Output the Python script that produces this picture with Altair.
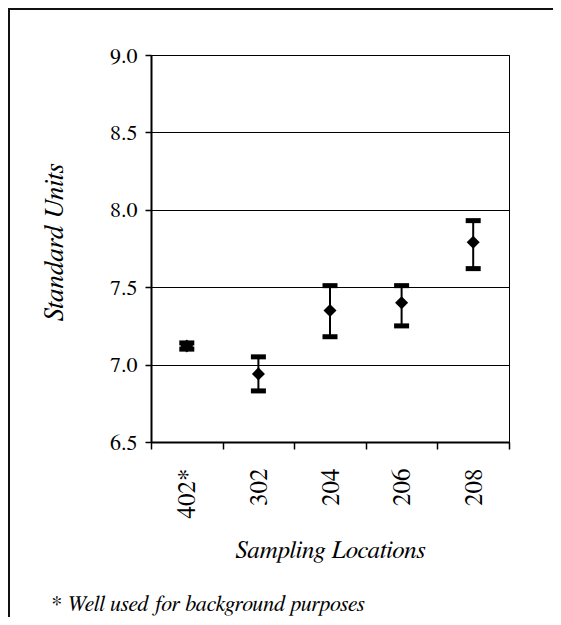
import altair as alt
import pandas as pd

# ---- data ----
locations = ["402*", "302", "204", "206", "208"]
means = [7.12, 6.94, 7.35, 7.40, 7.79]
lows = [7.10, 6.83, 7.18, 7.25, 7.62]
highs = [7.14, 7.05, 7.51, 7.51, 7.93]
y_ticks = [6.5, 7.0, 7.5, 8.0, 8.5, 9.0]
footnote = ["* Well used for background purposes"]

df = pd.DataFrame({"loc": locations, "mean": means, "low": lows, "high": highs})

FONT = "FreeSerif"

x_axis = alt.Axis(
    title="Sampling Locations", labelAngle=270, labelFontSize=25, labelFont=FONT,
    labelColor="black", labelPadding=19, labelAlign="right", labelBaseline="middle",
    tickBand="extent", tickSize=7, tickWidth=1.5, tickColor="black",
    domainColor="black", domainWidth=2, grid=False,
    titleFont=FONT, titleFontSize=25, titleFontStyle="italic", titleFontWeight="normal",
    titleBaseline="alphabetic", titleY=115, titleColor="black",
)
y_axis = alt.Axis(
    title="Standard Units", values=y_ticks, format=".1f",
    labelFont=FONT, labelFontSize=22, labelColor="black", labelPadding=8,
    tickSize=6, tickWidth=1.5, tickColor="black",
    domainColor="black", domainWidth=2,
    grid=True, gridColor="black", gridWidth=1, gridOpacity=1,
    titleFont=FONT, titleFontSize=27, titleFontStyle="italic", titleFontWeight="normal",
    titleAngle=270, titleAlign="center", titleBaseline="alphabetic",
    titleX=-89, titleY=187, titleColor="black",
)

x_enc = alt.X("loc:N", sort=locations,
              scale=alt.Scale(paddingInner=0, paddingOuter=0), axis=x_axis)
y_scale = alt.Scale(domain=[6.5, 9.0], nice=False, zero=False)

base = alt.Chart(df)

bars = base.mark_rule(color="black", strokeWidth=2).encode(
    x=x_enc,
    y=alt.Y("low:Q", scale=y_scale, axis=y_axis),
    y2="high:Q",
)
cap_hi = base.mark_tick(color="black", size=15, thickness=5, opacity=1).encode(
    x=x_enc, y=alt.Y("high:Q", scale=y_scale, axis=y_axis))
cap_lo = base.mark_tick(color="black", size=15, thickness=5, opacity=1).encode(
    x=x_enc, y=alt.Y("low:Q", scale=y_scale, axis=y_axis))
points = base.mark_point(shape="diamond", filled=True, color="black", size=170, opacity=1).encode(
    x=x_enc, y=alt.Y("mean:Q", scale=y_scale, axis=y_axis))

note = alt.Chart(pd.DataFrame({"t": footnote})).mark_text(
    font=FONT, fontSize=22, fontStyle="italic", align="left", baseline="alphabetic", color="black"
).encode(text="t:N", x=alt.value(-101), y=alt.value(556))

one = alt.Chart(pd.DataFrame({"k": [0]}))
border_left = one.mark_rule(color="#111", strokeWidth=2).encode(
    x=alt.value(-142), y=alt.value(-47), y2=alt.value(600))
border_top = one.mark_rule(color="#111", strokeWidth=2).encode(
    x=alt.value(-143), x2=alt.value(420), y=alt.value(-46))

chart = alt.layer(bars, cap_hi, cap_lo, points, note, border_left, border_top).properties(
    width=358, height=387,
    autosize=alt.AutoSizeParams(type="none"),
    padding={"left": 143, "top": 47, "right": 44, "bottom": 175},
    background="white",
).configure_view(stroke="black", strokeWidth=1)

chart.save("out.html", embed_options={"renderer": "svg", "actions": False})
